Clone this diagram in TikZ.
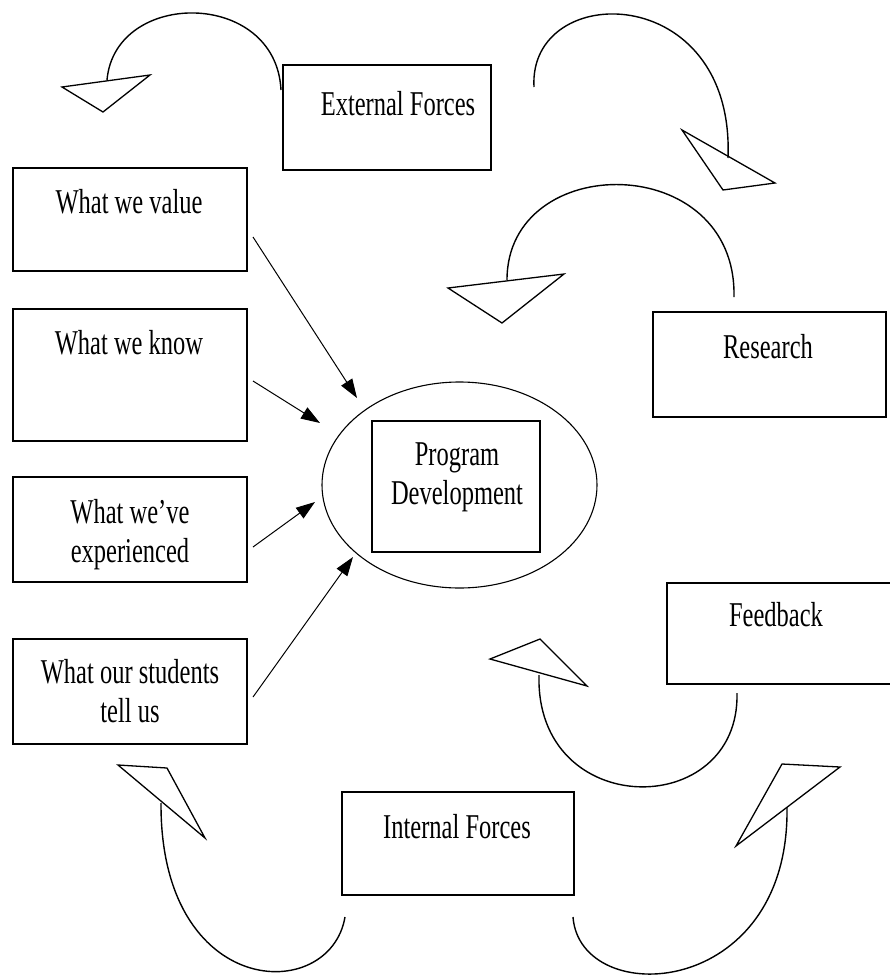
\documentclass[tikz,border=0pt]{standalone}
\usepackage{fontspec}
\setmainfont{Liberation Serif}
\usetikzlibrary{arrows.meta,shapes.geometric}
\newcommand\sqtext[1]{\scalebox{1}[1.42]{\begin{tabular}[t]{@{}c@{}}#1\end{tabular}}}
\tikzset{
  box/.style={draw, line width=1.4pt, rectangle, inner sep=0pt},
  lbl/.style={inner sep=0pt, anchor=base, font=\fontsize{24.5pt}{27.5pt}\selectfont},
  arcline/.style={line width=1.4pt},
  tri/.style={line width=1.3pt, line join=miter},
  arr/.style={line width=1pt, -{Triangle[length=19pt,width=13pt]}}
}
\begin{document}
\begin{tikzpicture}[x=1pt,y=-1pt]
\useasboundingbox (0,0) rectangle (890,980);
% boxes
\node[box, minimum width=208pt, minimum height=105pt] (ext) at (387,117.5) {};
\node[lbl] (extt) at (398,115) {\sqtext{External Forces}};
\node[box, minimum width=234pt, minimum height=103pt] (val) at (130,219.5) {};
\node[lbl] (valt) at (129,213) {\sqtext{What we value}};
\node[box, minimum width=234pt, minimum height=132pt] (know) at (130,375) {};
\node[lbl] (knowt) at (129,354) {\sqtext{What we know}};
\node[box, minimum width=234pt, minimum height=105pt] (exp) at (130,529.5) {};
\node[lbl] (expt) at (130,523) {\sqtext{What we’ve\\experienced}};
\node[box, minimum width=234pt, minimum height=105pt] (stu) at (130,691.5) {};
\node[lbl] (stut) at (130,683) {\sqtext{What our students\\tell us}};
\node[box, minimum width=233pt, minimum height=105pt] (res) at (769.5,364.5) {};
\node[lbl] (rest) at (768,358) {\sqtext{Research}};
\node[box, minimum width=226pt, minimum height=101pt] (fb) at (780,633.5) {};
\node[lbl] (fbt) at (776,626) {\sqtext{Feedback}};
\node[box, minimum width=232pt, minimum height=103pt] (int) at (458,843.5) {};
\node[lbl] (intt) at (457,838) {\sqtext{Internal Forces}};
% centre
\node[draw, ellipse, line width=1.1pt, minimum width=275pt, minimum height=206pt, inner sep=0pt] (ell) at (459.5,485) {};
\node[box, minimum width=168pt, minimum height=131pt] (pd) at (456,486.5) {};
\node[lbl] (pdt) at (457,465) {\sqtext{Program\\Development}};
% straight arrows
\coordinate (a1s) at (253,237); \coordinate (a1e) at (357,398);
\coordinate (a2s) at (253,381); \coordinate (a2e) at (320,423);
\coordinate (a3s) at (253,547); \coordinate (a3e) at (315,502);
\coordinate (a4s) at (253,697); \coordinate (a4e) at (353,557);
\draw[arr] (a1s) -- (a1e);
\draw[arr] (a2s) -- (a2e);
\draw[arr] (a3s) -- (a3e);
\draw[arr] (a4s) -- (a4e);
% curved arrows
\coordinate (c1s) at (281,90);  \coordinate (c1e) at (107,80);
\draw[arcline] (c1s) .. controls (276,-11) and (115,-11) .. (c1e);
\draw[tri] (62,87) -- (150,75) -- (103,112) -- cycle;
\coordinate (c2s) at (534,87);  \coordinate (c2e) at (728,158);
\draw[arcline] (c2s) .. controls (528,-20) and (735,-20) .. (c2e);
\draw[tri] (682,130) -- (775,183) -- (723,190) -- cycle;
\coordinate (c3s) at (734,297); \coordinate (c3e) at (507,280);
\draw[arcline] (c3s) .. controls (737,150) and (507,150) .. (c3e);
\draw[tri] (448,288) -- (564,274) -- (502,323) -- cycle;
\coordinate (c4s) at (737,693); \coordinate (c4e) at (539,675);
\draw[arcline] (c4s) .. controls (740,821) and (535,821) .. (c4e);
\draw[tri] (490,659) -- (540,639) -- (587,686) -- cycle;
\coordinate (c5s) at (345,917); \coordinate (c5e) at (161,803);
\draw[arcline] (c5s) .. controls (330,1005) and (160,1000) .. (c5e);
\draw[tri] (118,765) -- (167,768) -- (205,838) -- cycle;
\coordinate (c6s) at (573,917); \coordinate (c6e) at (787,807);
\draw[arcline] (c6s) .. controls (580,1010) and (790,1000) .. (c6e);
\draw[tri] (782,764) -- (840,767) -- (736,846) -- cycle;
\end{tikzpicture}
\end{document}
